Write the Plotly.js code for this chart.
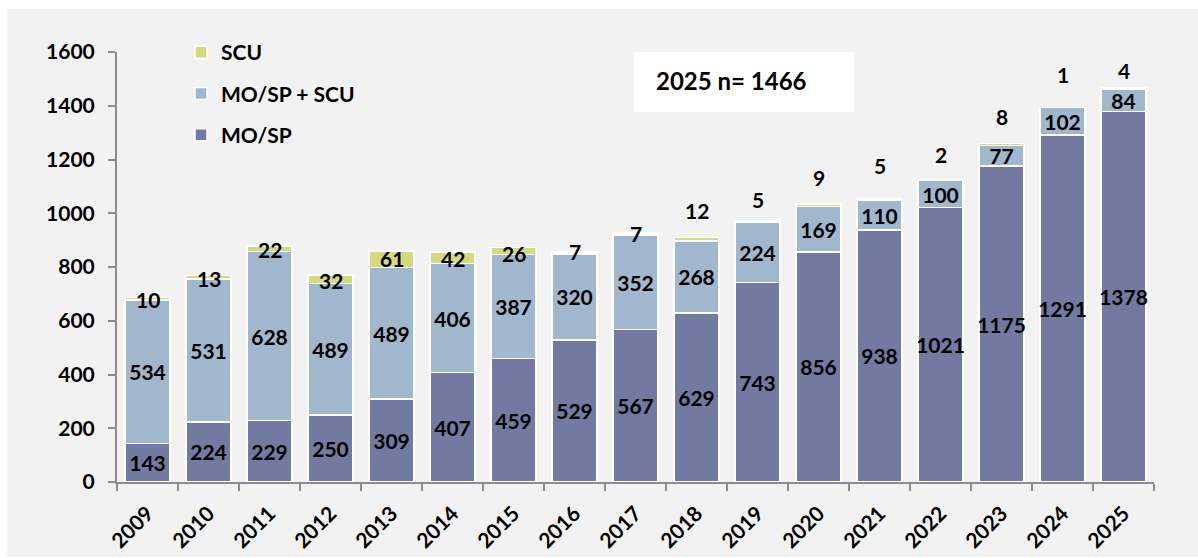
<!DOCTYPE html>
<html>
<head>
<meta charset="utf-8">
<script src="https://cdn.plot.ly/plotly-3.0.1.min.js"></script>
<style>html,body{margin:0;padding:0;background:#fff;}#chart{width:1198px;height:558px;}</style>
</head>
<body>
<div id="chart"></div>
<script>
const years = ['2009','2010','2011','2012','2013','2014','2015','2016','2017','2018','2019','2020','2021','2022','2023','2024','2025'];
const moSp = [143,224,229,250,309,407,459,529,567,629,743,856,938,1021,1175,1291,1378];
const moSpScu = [534,531,628,489,489,406,387,320,352,268,224,169,110,100,77,102,84];
const scu = [10,13,22,32,61,42,26,7,7,12,5,9,5,2,8,1,4];
// label offsets (px above the bar top) for the SCU labels
const scuLabelShift = [-2,-3,-4,-6,-7,-6,-6,0,0,27,21,27,34,26,27,33,18];
const boxText = '2025 n= 1466';

const FONT = 'Lato, "Open Sans", sans-serif';
const FS = 21;
const cDark = '#727aa1', cLight = '#a1b7ce', cYellow = '#d5da7c';

// plot area in pixels
const L = 117, R = 1154, T = 52, B = 482;
const W = R - L, H = B - T;
const px = x => (x - L) / W;
const py = y => (B - y) / H;

const common = {
  type: 'bar', x: years,
  textposition: 'inside', insidetextanchor: 'middle', constraintext: 'none', textangle: 0,
  textfont: {family: FONT, size: FS, color: '#000', weight: 700},
  hoverinfo: 'skip'
};

const traces = [
  Object.assign({}, common, {name: 'MO/SP', y: moSp, text: moSp.map(String), legendrank: 3, legendgroup: 'g3',
    marker: {color: cDark, line: {color: '#fff', width: 1.5}}}),
  Object.assign({}, common, {name: 'MO/SP + SCU', y: moSpScu, text: moSpScu.map(String), legendrank: 2, legendgroup: 'g2',
    marker: {color: cLight, line: {color: '#fff', width: 1.5}}}),
  Object.assign({}, common, {name: 'SCU', y: scu, legendrank: 1, legendgroup: 'g1',
    marker: {color: cYellow, line: {color: '#fff', width: 1.5}}})
];

const totals = years.map((_, i) => moSp[i] + moSpScu[i] + scu[i]);
const annotations = years.map((yr, i) => ({
  x: i, y: totals[i], xref: 'x', yref: 'y', text: String(scu[i]),
  showarrow: false, yanchor: 'middle', yshift: scuLabelShift[i],
  font: {family: FONT, size: FS, color: '#000', weight: 700}
}));
annotations.push({
  xref: 'paper', yref: 'paper', x: px(654), y: py(81), xanchor: 'left', yanchor: 'middle',
  text: boxText, showarrow: false,
  font: {family: FONT, size: 24, color: '#000', weight: 700}
});

const layout = {
  width: 1198, height: 558,
  margin: {l: L, r: 1198 - R, t: T, b: 558 - B},
  paper_bgcolor: '#ffffff', plot_bgcolor: 'rgba(0,0,0,0)',
  barmode: 'stack', bargap: 0.26,
  font: {family: FONT, size: FS, color: '#000', weight: 700},
  showlegend: true,
  legend: {x: px(181), y: py(32), xanchor: 'left', yanchor: 'top', bgcolor: 'rgba(0,0,0,0)',
    traceorder: 'grouped', tracegroupgap: 11,
    font: {family: FONT, size: FS, color: '#000', weight: 700}},
  xaxis: {type: 'category', range: [-0.5, years.length - 0.5], showgrid: false, zeroline: false, showline: true,
    linecolor: '#8c8c8c', linewidth: 2,
    ticks: 'outside', tickson: 'boundaries', ticklen: 7, tickwidth: 2, tickcolor: '#8c8c8c', ticklabelstandoff: 9,
    tickangle: -45, tickfont: {family: FONT, size: FS, color: '#000', weight: 700}, fixedrange: true},
  yaxis: {range: [0, 1600], dtick: 200, showgrid: false, zeroline: false, showline: true, linecolor: '#8c8c8c', linewidth: 2,
    ticks: 'outside', ticklen: 7, tickwidth: 2, tickcolor: '#8c8c8c', ticklabelstandoff: 9,
    tickfont: {family: FONT, size: FS, color: '#000', weight: 700}, fixedrange: true},
  shapes: [
    {type: 'rect', xref: 'paper', yref: 'paper', x0: px(7), x1: px(1198), y0: py(557), y1: py(9),
      fillcolor: '#f2f2f2', line: {width: 0}, layer: 'below'},
    {type: 'rect', xref: 'paper', yref: 'paper', x0: px(634), x1: px(854), y0: py(112), y1: py(52),
      fillcolor: '#ffffff', line: {width: 0}, layer: 'below'}
  ],
  annotations: annotations
};

Plotly.newPlot('chart', traces, layout, {displayModeBar: false, staticPlot: true});
</script>
</body>
</html>
